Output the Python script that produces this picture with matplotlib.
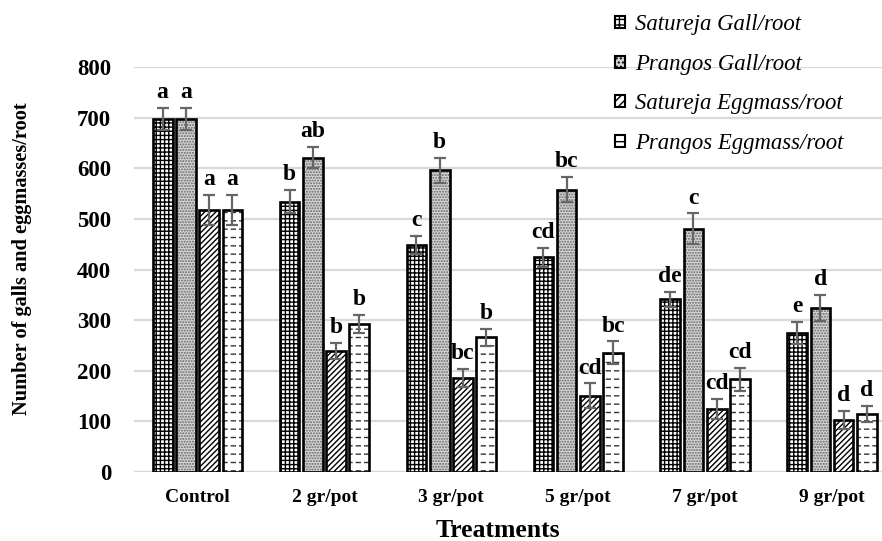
import matplotlib.pyplot as plt
from matplotlib.patches import Patch
import numpy as np

plt.rcParams['font.family'] = 'Liberation Serif'
plt.rcParams['hatch.linewidth'] = 1.0

treatments = ["Control", "2 gr/pot", "3 gr/pot", "5 gr/pot", "7 gr/pot", "9 gr/pot"]
series_names = ["Satureja Gall/root", "Prangos Gall/root",
                "Satureja Eggmass/root", "Prangos Eggmass/root"]

satureja_gall = [698, 534, 448, 424, 341, 275]
prangos_gall = [698, 621, 596, 558, 481, 324]
satureja_egg = [518, 239, 185, 151, 124, 103]
prangos_egg = [518, 293, 266, 236, 183, 114]

satureja_gall_err = [22, 23, 18, 18, 15, 22]
prangos_gall_err = [22, 21, 25, 25, 30, 26]
satureja_egg_err = [29, 16, 18, 24, 20, 18]
prangos_egg_err = [29, 18, 17, 22, 22, 16]

satureja_gall_lbl = ["a", "b", "c", "cd", "de", "e"]
prangos_gall_lbl = ["a", "ab", "b", "bc", "c", "d"]
satureja_egg_lbl = ["a", "b", "bc", "cd", "cd", "d"]
prangos_egg_lbl = ["a", "b", "b", "bc", "cd", "d"]

values = [satureja_gall, prangos_gall, satureja_egg, prangos_egg]
errors = [satureja_gall_err, prangos_gall_err, satureja_egg_err, prangos_egg_err]
letters = [satureja_gall_lbl, prangos_gall_lbl, satureja_egg_lbl, prangos_egg_lbl]

hatches = ["++++", "......", "//////", "--"]
faces = ["white", "#d6d6d6", "white", "white"]
hatch_cols = ["black", "#666666", "black", "#333333"]


def hatch_width(patches, lw):
    for p in patches:
        if hasattr(p, "set_hatch_linewidth"):
            p.set_hatch_linewidth(lw)


fig = plt.figure(figsize=(8.82, 5.41), dpi=100)
ax = fig.add_axes([0.152, 0.1275, 0.848, 0.7485])

x = np.arange(len(treatments))
width = 0.155
step = 0.183

for i in range(4):
    pos = x + (i - 1.5) * step
    bars = ax.bar(pos, values[i], width, color=faces[i], edgecolor=hatch_cols[i],
                  hatch=hatches[i], linewidth=0, zorder=2)
    if i == 3:
        # white vertical strokes break the horizontal lines into dashes
        with plt.rc_context({"hatch.linewidth": 2.2}):
            cut = ax.bar(pos, values[i], width, fill=False, edgecolor="white",
                         hatch="||", linewidth=0, zorder=2.5)
        hatch_width(cut, 2.2)
    ax.bar(pos, values[i], width, fill=False, edgecolor="black", linewidth=1.9, zorder=3)
    ax.errorbar(pos, values[i], yerr=errors[i], fmt="none", ecolor="#666666",
                elinewidth=1.6, capsize=4, capthick=1.6, zorder=4)
    for p, v, e, t in zip(pos, values[i], errors[i], letters[i]):
        ax.annotate(t, (p, v + e), xytext=(0, 3.5), textcoords="offset points",
                    ha="center", va="bottom", fontsize=17, fontweight="bold")

ax.set_ylim(0, 800)
ax.set_xlim(-0.5, 5 + 50 / 126.9)
ax.set_yticks(range(0, 801, 100))
ax.yaxis.grid(True, color="#d9d9d9", linewidth=1.6, zorder=0)
ax.set_axisbelow(True)
for s in ax.spines.values():
    s.set_visible(False)
ax.axhline(0, color="#d9d9d9", linewidth=1.6, zorder=1)
ax.tick_params(axis="both", length=0)
ax.tick_params(axis="y", pad=16.5, labelsize=16.5)
ax.tick_params(axis="x", pad=12, labelsize=14)
ax.set_xticks(x)
ax.set_xticklabels(treatments, fontweight="bold")
for lab in ax.get_yticklabels():
    lab.set_fontweight("bold")

ax.set_xlabel("Treatments", fontsize=18.5, fontweight="bold")
ax.xaxis.set_label_coords(0.487, -0.115)
ax.set_ylabel("Number of galls and eggmasses/root", fontsize=14.7, fontweight="bold")
ax.yaxis.set_label_coords(-0.137, 0.526)

handles = [Patch(facecolor=faces[i], edgecolor="black", hatch=h, linewidth=1.5)
           for i, h in enumerate(["+++", "....", "////", "-"])]
fig.legend(handles, series_names, loc="upper left",
           bbox_to_anchor=(0.697, 0.974), frameon=False, borderpad=0, borderaxespad=0,
           prop={"style": "italic", "size": 16.4}, handlelength=0.45,
           handleheight=0.45, handletextpad=0.44, labelspacing=0.82)

fig.savefig("out.png", dpi=100)
